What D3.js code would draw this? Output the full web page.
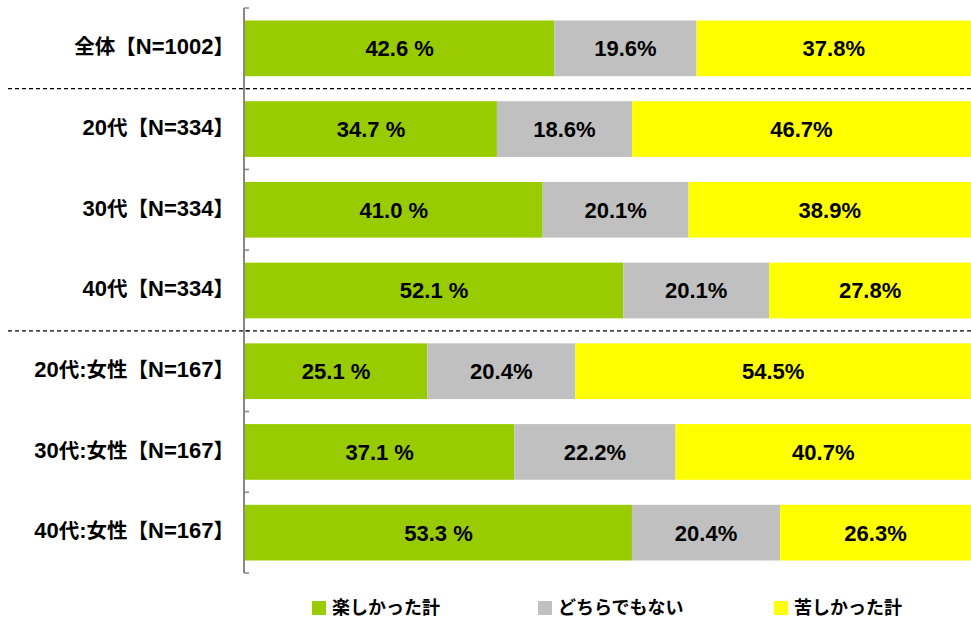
<!DOCTYPE html>
<html>
<head>
<meta charset="utf-8">
<script src="https://cdn.jsdelivr.net/npm/d3@7"></script>
<style>
  body { margin: 0; background: #fff; }
  text { font-family: "Liberation Sans", "Noto Sans CJK JP", sans-serif; }
  .cjk { font-family: "Noto Sans CJK JP", sans-serif; }
</style>
</head>
<body>
<div id="container"></div>
<script>
// data
const categories = ["全体【N=1002】", "20代【N=334】", "30代【N=334】", "40代【N=334】",
  "20代:女性【N=167】", "30代:女性【N=167】", "40代:女性【N=167】"];
const seriesNames = ["楽しかった計", "どちらでもない", "苦しかった計"];
const fun = [42.6, 34.7, 41.0, 52.1, 25.1, 37.1, 53.3];
const neutral = [19.6, 18.6, 20.1, 20.1, 20.4, 22.2, 20.4];
const hard = [37.8, 46.7, 38.9, 27.8, 54.5, 40.7, 26.3];
const separatorsAfter = ["全体【N=1002】", "40代【N=334】"];

const width = 971;
const height = 621;
const margin = { top: 8, right: 0, bottom: 48, left: 245 };
const colors = ["#99cc00", "#c0c0c0", "#ffff00"];

const rows = categories.map((c, i) => ({ cat: c, vals: [fun[i], neutral[i], hard[i]] }));

const svg = d3.select("#container")
  .append("svg")
  .attr("width", width)
  .attr("height", height);

const x = d3.scaleLinear()
  .domain([0, 100])
  .range([margin.left, width - margin.right]);

const y = d3.scaleBand()
  .domain(categories)
  .range([margin.top, height - margin.bottom])
  .paddingInner(0.31)
  .paddingOuter(0.155);

// mixed text: latin runs bigger, CJK runs smaller
function mixedText(sel, str, latinSize, cjkSize) {
  const runs = str.match(/[\x00-\x7f]+|[^\x00-\x7f]+/g);
  runs.forEach(r => {
    const ascii = /^[\x00-\x7f]+$/.test(r);
    sel.append("tspan")
      .attr("class", ascii ? null : "cjk")
      .attr("font-size", ascii ? latinSize : cjkSize)
      .text(r);
  });
}

// bars
rows.forEach(r => {
  let acc = 0;
  r.vals.forEach((v, j) => {
    const x0 = x(acc), x1 = x(acc + v);
    svg.append("rect")
      .attr("x", x0)
      .attr("y", y(r.cat))
      .attr("width", x1 - x0)
      .attr("height", y.bandwidth())
      .attr("fill", colors[j]);
    svg.append("text")
      .attr("x", (x0 + x1) / 2)
      .attr("y", y(r.cat) + y.bandwidth() / 2)
      .attr("dy", "0.36em")
      .attr("text-anchor", "middle")
      .attr("font-size", 22)
      .attr("font-weight", "bold")
      .attr("fill", "#000")
      .text(j === 0 ? v.toFixed(1) + " %" : v.toFixed(1) + "%");
    acc += v;
  });
});

// category labels
svg.append("g")
  .selectAll("text")
  .data(categories)
  .join("text")
  .attr("x", 234)
  .attr("y", d => y(d) + y.bandwidth() / 2)
  .attr("dy", "0.36em")
  .attr("text-anchor", "end")
  .attr("font-weight", "bold")
  .each(function (d) { mixedText(d3.select(this), d, 22, 20.5); });

// axis line + ticks at band boundaries
const step = y.step();
const bounds = d3.range(categories.length + 1).map(i => y.range()[0] + i * step);
svg.append("line")
  .attr("x1", margin.left - 1).attr("x2", margin.left - 1)
  .attr("y1", bounds[0]).attr("y2", bounds[bounds.length - 1])
  .attr("stroke", "#888").attr("stroke-width", 2);
svg.append("g")
  .selectAll("line")
  .data(bounds)
  .join("line")
  .attr("x1", margin.left - 1).attr("x2", margin.left + 4)
  .attr("y1", d => d).attr("y2", d => d)
  .attr("stroke", "#888").attr("stroke-width", 1.5);

// dashed separators
separatorsAfter.forEach(c => {
  const yy = y(c) + y.bandwidth() + (step - y.bandwidth()) / 2;
  svg.append("line")
    .attr("x1", 8).attr("x2", width)
    .attr("y1", yy).attr("y2", yy)
    .attr("stroke", "#000")
    .attr("stroke-width", 1.2)
    .attr("stroke-dasharray", "4,3");
});

// legend
const legendX = [312, 538, 774];
const legend = svg.append("g");
seriesNames.forEach((n, i) => {
  legend.append("rect")
    .attr("x", legendX[i]).attr("y", 601)
    .attr("width", 14).attr("height", 14)
    .attr("fill", colors[i]);
  legend.append("text")
    .attr("class", "cjk")
    .attr("x", legendX[i] + 20).attr("y", 608)
    .attr("dy", "0.36em")
    .attr("font-size", 18)
    .attr("font-weight", "bold")
    .text(n);
});
</script>
</body>
</html>
